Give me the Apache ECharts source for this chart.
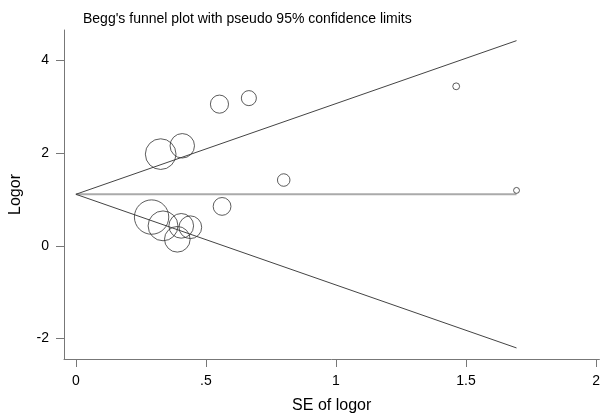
<!DOCTYPE html>
<html>
<head>
<meta charset="utf-8">
<script src="https://cdn.jsdelivr.net/npm/echarts@6/dist/echarts.min.js"></script>
<style>
html,body{margin:0;padding:0;background:#fff;}
#chart{width:603px;height:419px;}
</style>
</head>
<body>
<div id="chart"></div>
<script>
// Study standard errors (x) and log odds ratios (y)
var studySE    = [0.552, 0.665, 0.326, 0.409, 0.799, 0.562, 0.291, 0.335, 0.405, 0.440, 0.390, 1.462, 1.694];
var studyLogor = [3.06,  3.19,  1.98,  2.16,  1.42,  0.85,  0.62,  0.43,  0.43,  0.40,  0.14,  3.445, 1.196];

// Pseudo 95% confidence limits (funnel)
var funnelSE    = [0, 1.694];
var funnelUpper = [1.112, 4.432];
var funnelLower = [1.112, -2.208];
var funnelMid   = [1.112, 1.112];

// Tick labels
var xTicks = [0, 0.5, 1, 1.5, 2];
var yTicks = [-2, 0, 2, 4];

var FONT = '"Liberation Sans", Arial, sans-serif';

function pairs(xs, ys){ return xs.map(function(x,i){ return [x, ys[i]]; }); }

var chart = echarts.init(document.getElementById('chart'), null, {renderer:'canvas'});
chart.setOption({
  animation: false,
  backgroundColor: '#fff',
  title: {
    text: "Begg's funnel plot with pseudo 95% confidence limits",
    left: 83, top: 12, padding: 0,
    textStyle: {fontFamily: FONT, fontSize: 14, fontWeight: 'normal', color: '#000'}
  },
  grid: {left: 62.3, right: 0, top: 30, bottom: 52, containLabel: false},
  xAxis: {
    type: 'value',
    min: -0.0457, max: 2.0126,
    name: 'SE of logor', nameLocation: 'middle', nameGap: 39,
    nameTextStyle: {fontFamily: FONT, fontSize: 16, color: '#000'},
    axisLine: {show: true, onZero: false, lineStyle: {color: '#777', width: 1}},
    axisTick: {show: true, customValues: xTicks, length: 8, lineStyle: {color: '#777'}},
    axisLabel: {
      customValues: xTicks, margin: 15,
      fontFamily: FONT, fontSize: 14, color: '#000',
      formatter: function(v){ return String(v).replace(/^0\./, '.'); }
    },
    splitLine: {show: false}
  },
  yAxis: {
    type: 'value',
    min: -2.447, max: 4.662,
    name: 'Logor', nameLocation: 'middle', nameGap: 40, nameRotate: 90,
    nameTextStyle: {fontFamily: FONT, fontSize: 16, color: '#000'},
    axisLine: {show: true, onZero: false, lineStyle: {color: '#777', width: 1}},
    axisTick: {show: true, customValues: yTicks, length: 8, lineStyle: {color: '#777'}},
    axisLabel: {
      customValues: yTicks, margin: 15,
      fontFamily: FONT, fontSize: 14, color: '#000'
    },
    splitLine: {show: false}
  },
  series: [
    {
      type: 'line', data: pairs(funnelSE, funnelMid), showSymbol: false, symbol: 'none',
      lineStyle: {color: '#aaa', width: 2}, silent: true, z: 1
    },
    {
      type: 'line', data: pairs(funnelSE, funnelUpper), showSymbol: false, symbol: 'none',
      lineStyle: {color: '#444', width: 1}, silent: true, z: 2
    },
    {
      type: 'line', data: pairs(funnelSE, funnelLower), showSymbol: false, symbol: 'none',
      lineStyle: {color: '#444', width: 1}, silent: true, z: 2
    },
    {
      type: 'scatter', data: pairs(studySE, studyLogor),
      symbol: 'circle',
      symbolSize: function(v){ return 10 / v[0]; },
      itemStyle: {color: 'rgba(0,0,0,0)', borderColor: '#333', borderWidth: 1},
      z: 3
    }
  ]
});
</script>
</body>
</html>
